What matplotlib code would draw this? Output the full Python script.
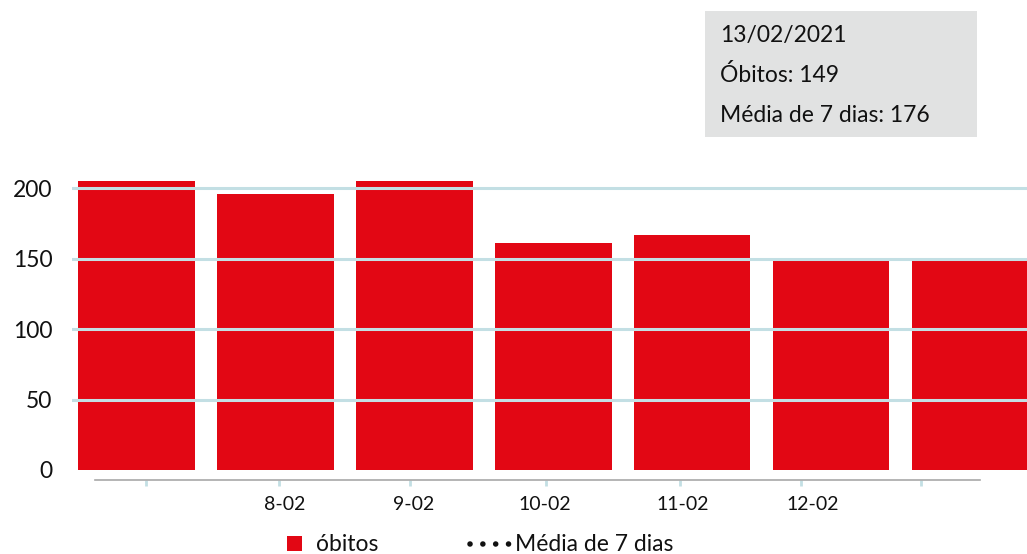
import matplotlib
matplotlib.use("Agg")
import matplotlib.pyplot as plt
from matplotlib.patches import Rectangle
from matplotlib.lines import Line2D

# --- dados ---
datas = ["7-02", "8-02", "9-02", "10-02", "11-02", "12-02", "13-02"]
obitos = [205, 196, 205, 161, 167, 148, 149]
media_7_dias_ultimo = 176
data_tooltip = "13/02/2021"
y_ticks = [0, 50, 100, 150, 200]
grid_vals = [50, 100, 150, 200]
x_labels = ["8-02", "9-02", "10-02", "11-02", "12-02"]

# --- layout (posições do eixo x, em unidades de barra) ---
label_pos = [1.07, 1.998, 2.94, 3.935, 4.871]
tick_pos = [0.068, 1.026, 1.969, 2.948, 3.913, 4.784, 5.648]

RED = "#e20714"
GRID = "#c3dfe4"
FONT = "Lato"
plt.rcParams["font.family"] = [FONT, "DejaVu Sans"]

fig = plt.figure(figsize=(10.27, 5.54), dpi=100)
ax = fig.add_axes([72 / 1027, 84 / 554, 955 / 1027, 320 / 554])

x = list(range(len(obitos)))
ax.bar(x, obitos, width=0.84, color=RED, zorder=2)
for g in grid_vals:
    ax.axhline(g, color=GRID, linewidth=2.2, zorder=3)

ax.set_xlim(-0.464, 6.411)
ax.set_ylim(0, 227)

for s in ["top", "right", "left"]:
    ax.spines[s].set_visible(False)
ax.spines["bottom"].set_position(("outward", 7))
ax.spines["bottom"].set_bounds(-0.299, 6.07)
ax.spines["bottom"].set_color("#a8a8a8")
ax.spines["bottom"].set_linewidth(1.2)

ax.set_yticks(y_ticks)
ax.set_yticklabels([str(v) for v in y_ticks], fontsize=16.5, color="#111111")
ax.tick_params(axis="y", length=0, pad=14)

ax.set_xticks(label_pos)
ax.set_xticklabels(x_labels, fontsize=14, color="#111111")
ax.tick_params(axis="x", which="major", length=0, pad=12)
ax.set_xticks(tick_pos, minor=True)
ax.tick_params(axis="x", which="minor", length=4.5, width=2, color=GRID)

# caixa de informação
fig.patches.append(Rectangle((705 / 1027, (554 - 137) / 554), 272 / 1027, 126 / 554,
                             transform=fig.transFigure, facecolor="#e1e2e2",
                             edgecolor="none", zorder=0))
linhas = [data_tooltip, f"Óbitos: {obitos[-1]}", f"Média de 7 dias: {media_7_dias_ultimo}"]
for i, t in enumerate(linhas):
    fig.text(720 / 1027, (554 - 42 - 40 * i) / 554, t, fontsize=16.5,
             color="#111111", va="baseline", ha="left")

# legenda
fig.patches.append(Rectangle((287 / 1027, 3 / 554), 15 / 1027, 15 / 554,
                             transform=fig.transFigure, facecolor=RED,
                             edgecolor="none"))
fig.text(316 / 1027, 3 / 554, "óbitos", fontsize=16.5, color="#111111", va="baseline")
fig.lines.append(Line2D([470 / 1027, 512 / 1027], [10 / 554, 10 / 554],
                        transform=fig.transFigure, color="#111111", linewidth=4,
                        linestyle=(0, (0.01, 2.3)), dash_capstyle="round"))
fig.text(515 / 1027, 3 / 554, "Média de 7 dias", fontsize=16.5, color="#111111",
         va="baseline")

fig.savefig("out.png", dpi=100)
